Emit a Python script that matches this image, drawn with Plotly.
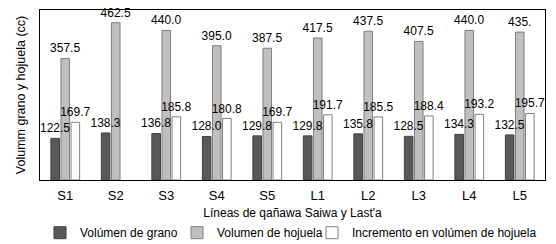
import plotly.graph_objects as go

categories = ["S1", "S2", "S3", "S4", "S5", "L1", "L2", "L3", "L4", "L5"]
grano = [122.5, 138.3, 136.8, 128.0, 129.8, 129.8, 135.8, 128.5, 134.3, 132.5]
hojuela = [357.5, 462.5, 440.0, 395.0, 387.5, 417.5, 437.5, 407.5, 440.0, 435.0]
incremento = [169.7, None, 185.8, 180.8, 169.7, 191.7, 185.5, 188.4, 193.2, 195.7]

grano_labels = [f"{v:.1f}" for v in grano]
hojuela_labels = [f"{v:.1f}" for v in hojuela]
hojuela_labels[-1] = "435."
incremento_labels = ["" if v is None else f"{v:.1f}" for v in incremento]

font_family = "Liberation Sans, Arial, sans-serif"
label_font = dict(size=12, color="#000000", family=font_family)

# group geometry (fractions of a category slot)
bar_w = 0.17
offs = {"grano": -0.285, "hojuela": -0.085, "incremento": 0.115}

fig = go.Figure()
# gray drawn first so that labels of other series sit on top of it
fig.add_trace(go.Bar(
    x=categories, y=hojuela, name="Volumen de hojuela",
    marker=dict(color="#bfbfbf", line=dict(color="#7f7f7f", width=1)),
    text=hojuela_labels, textposition="outside", cliponaxis=False,
    constraintext="none", textfont=label_font, outsidetextfont=label_font,
    width=bar_w, offset=offs["hojuela"], legendrank=2, legendwidth=90,
))
fig.add_trace(go.Bar(
    x=categories, y=grano, name="Volúmen de grano",
    marker=dict(color="#595959", line=dict(color="#404040", width=1)),
    text=grano_labels, textposition="outside", cliponaxis=False,
    constraintext="none", textfont=label_font, outsidetextfont=label_font,
    width=bar_w, offset=offs["grano"], legendrank=1, legendwidth=92,
))
fig.add_trace(go.Bar(
    x=categories, y=incremento, name="Incremento en volúmen de hojuela",
    marker=dict(color="#ffffff", line=dict(color="#808080", width=1)),
    text=incremento_labels, textposition="outside", cliponaxis=False,
    constraintext="none", textfont=label_font, outsidetextfont=label_font,
    width=bar_w, offset=offs["incremento"], legendrank=3, legendwidth=185,
))

fig.update_layout(
    width=556, height=244,
    margin=dict(l=40, r=11, t=10, b=64, autoexpand=False),
    paper_bgcolor="white", plot_bgcolor="white",
    font=dict(family=font_family, size=12, color="#000000"),
    barmode="overlay",
    legend=dict(orientation="h", x=0.0, xanchor="left", y=-0.31, yanchor="middle",
                font=dict(size=12), itemwidth=30, tracegroupgap=0,
                bgcolor="rgba(0,0,0,0)"),
    xaxis=dict(
        showline=True, linecolor="#000000", linewidth=1, mirror=True,
        ticks="", tickfont=dict(size=13), ticklabelstandoff=3,
        title=dict(text="Líneas de qañawa Saiwa y Last'a", font=dict(size=12), standoff=7),
        automargin=True,
    ),
    yaxis=dict(
        range=[0, 500], showline=True, linecolor="#000000", linewidth=1, mirror=True,
        showgrid=False, zeroline=False, showticklabels=False, ticks="",
        title=dict(text="Volumm grano y hojuela (cc)", font=dict(size=12.5), standoff=10),
        automargin=True,
    ),
)

fig.write_html("out.html", config={"displayModeBar": False},
               post_script="document.body.style.margin='0px';")
